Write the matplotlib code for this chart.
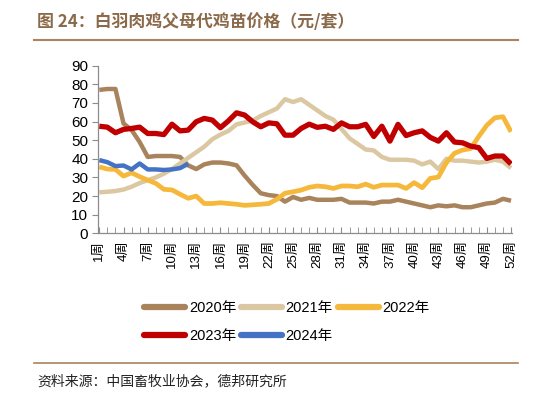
import matplotlib
matplotlib.use("Agg")
import matplotlib.pyplot as plt
from matplotlib.lines import Line2D

# 周次 (1..52)
weeks = list(range(1, 53))
tick_weeks = [1, 4, 7, 10, 13, 16, 19, 22, 25, 28, 31, 34, 37, 40, 43, 46, 49, 52]
tick_labels = [f"{w}周" for w in tick_weeks]

y2020 = [77, 77.5, 77.5, 59, 55.5, 49, 41, 41.5, 41.5, 41.5, 41, 36.5, 34.5, 37, 38, 38,
         37.5, 36.5, 31, 26, 21.5, 20.5, 20, 17, 19.5, 18, 19, 18, 18, 18, 18.5, 16.5,
         16.5, 16.5, 16, 17, 17, 18, 17, 16, 15, 14, 15, 14.5, 15, 14, 14, 15, 16, 16.5,
         18.5, 17.5]
y2021 = [22, 22.3, 22.7, 23.5, 25, 27, 28.5, 30, 32, 34.5, 37.5, 40.5, 43.5, 46.5, 50.5,
         53, 55, 58.5, 59.5, 60.5, 63, 65, 67, 72, 70.5, 72, 69, 66, 63, 61, 56, 51, 48,
         45, 44.5, 41, 39.5, 39.5, 39.5, 39, 37, 38.5, 34.5, 40, 39, 39, 38.5, 38, 38.5,
         39.5, 38.5, 35]
y2022 = [35.7, 34.5, 34.3, 30.7, 32.5, 30.4, 28.6, 26.8, 23.6, 23.3, 21, 18.8, 20, 16, 16,
         16.4, 16, 15.6, 15, 15.3, 15.6, 16, 18.3, 21.5, 22.3, 23.2, 24.7, 25.4, 25, 24.1,
         25.4, 25.4, 25, 26.4, 24.7, 25.9, 25.9, 25.9, 24.1, 27.2, 24.5, 29.5, 30.2, 38,
         43, 44.7, 45.5, 52, 58, 62, 62.6, 54.5]
y2023 = [57.5, 57, 54, 55.8, 56.3, 57, 53.6, 53.6, 53, 58.6, 55, 55.4, 59.9, 61.7, 60.8,
         56.7, 60.4, 64.7, 63.5, 59.9, 57.2, 59.3, 58.8, 52.7, 52.7, 56.3, 58.6, 56.9, 57.5,
         55.8, 59.3, 57.2, 57.2, 58.5, 52, 57.5, 49.5, 58.5, 52.5, 54, 55, 51.5, 49.5, 54,
         49, 48.6, 46.8, 46, 40.2, 41.5, 41.5, 37.2]
y2024 = [39.3, 38.2, 36.1, 36.4, 34.3, 37.5, 34.3, 34.3, 34, 34.3, 35, 37.3]

series = [("2020年", y2020, "#A8835C", 3.2),
          ("2021年", y2021, "#DBC8A2", 3.2),
          ("2022年", y2022, "#F5B83A", 3.4),
          ("2023年", y2023, "#C00000", 3.8),
          ("2024年", y2024, "#4472C4", 3.2)]

fam = ["Liberation Sans", "Noto Sans CJK SC"]
W, H = 552, 404
fig = plt.figure(figsize=(W / 100, H / 100), dpi=100)
ax = fig.add_axes([98 / W, 1 - 233.3 / H, (512 - 98) / W, (233.3 - 65.7) / H])

for name, vals, col, lw in series:
    ax.plot(weeks[:len(vals)], vals, color=col, lw=lw, solid_capstyle="butt",
            solid_joinstyle="round")

ax.set_xlim(0.84, 52.12)
ax.set_ylim(0, 90)
ax.set_yticks(range(0, 91, 10))
ax.set_xticks(weeks, minor=True)
ax.set_xticks(tick_weeks)
ax.set_xticklabels(tick_labels, rotation=90, family=fam, fontsize=9.5)
for t in ax.get_yticklabels():
    t.set_family(fam)
    t.set_fontsize(11)

for s in ["top", "right"]:
    ax.spines[s].set_visible(False)
for s in ["left", "bottom"]:
    ax.spines[s].set_color("#8c8c8c")
    ax.spines[s].set_linewidth(0.9)
ax.tick_params(axis="y", direction="out", length=4, color="#8c8c8c", pad=3)
ax.tick_params(axis="x", which="both", direction="in", length=4, color="#8c8c8c", pad=5)

# 图例按行排列：2020 2021 2022 / 2023 2024
order = [0, 3, 1, 4, 2]
handles = [Line2D([], [], color=series[i][2], lw=4.5, solid_capstyle="round") for i in order]
labels = [series[i][0] for i in order]
fig.legend(handles, labels, loc="upper left", bbox_to_anchor=(137 / W, 1 - 294 / H),
           ncol=3, frameon=False, borderpad=0, handlelength=2.8, handletextpad=0.25,
           columnspacing=0.35, labelspacing=0.95, prop={"family": fam, "size": 10.5})

# 标题与分隔线
fig.text(37 / W, 1 - 22 / H, "图 24：白羽肉鸡父母代鸡苗价格（元/套）", ha="left", va="center",
         fontsize=12.2, fontweight="bold", color="#8B6A4A", family="Noto Sans CJK SC")
fig.add_artist(Line2D([34 / W, 518 / W], [1 - 40 / H, 1 - 40 / H], color="#A8835C", lw=1.5))
fig.add_artist(Line2D([34 / W, 518 / W], [1 - 362.7 / H, 1 - 362.7 / H], color="#A8835C", lw=1.2))
fig.text(37 / W, 1 - 381 / H, "资料来源：中国畜牧业协会，德邦研究所", ha="left", va="center",
         fontsize=10, color="#222222", family="Noto Sans CJK SC")

fig.savefig("out.png", dpi=100)
